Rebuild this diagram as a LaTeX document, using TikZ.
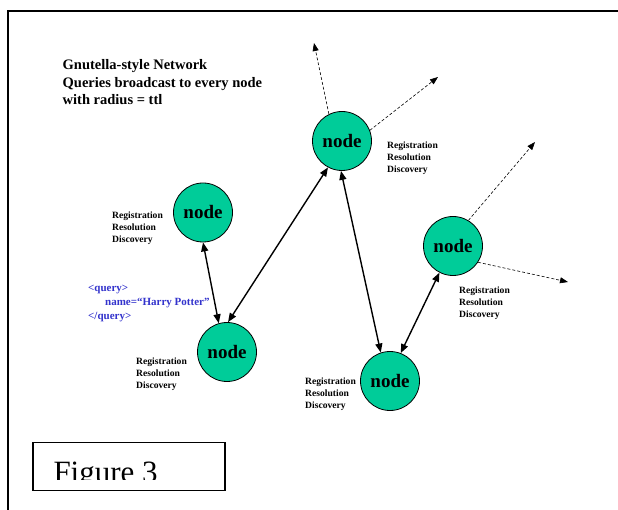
\documentclass[tikz,border=0pt]{standalone}
\usepackage{fontspec}
\setmainfont{Liberation Serif}
\usepackage{tikz}
\usetikzlibrary{arrows.meta}
\definecolor{nodegreen}{RGB}{0,204,153}
\definecolor{queryblue}{RGB}{51,51,204}

\begin{document}
\begin{tikzpicture}
    [
      x=1pt, y=-1pt,
      peer/.style = {circle, draw, line width=0.8pt, fill=nodegreen, minimum size=59pt, inner sep=0pt,
                     font=\bfseries\fontsize{19}{19}\selectfont},
      link/.style = {line width=1.4pt, {Triangle[length=9pt,width=7pt]}-{Triangle[length=9pt,width=7pt]}},
      probe/.style = {line width=0.6pt, dash pattern=on 3pt off 2pt, -{Triangle[length=8pt,width=6pt]}},
      info/.style = {anchor=north west, inner sep=0pt, align=left,
                     font=\bfseries\fontsize{9.6}{12}\selectfont},
    ]

    \useasboundingbox (0,0) rectangle (618,510);
    \draw[line width=1.7pt] (8,512) -- (8,11) -- (620,11);

    \node[anchor=north west, inner sep=0pt, align=left,
          font=\bfseries\fontsize{14.5}{17.5}\selectfont] (title) at (62.5,59.5)
      {Gnutella-style Network\\Queries broadcast to every node\\with radius = ttl};

    \node[peer] (peer1) at (203,212.5) {node};
    \node[peer] (peer2) at (227,352) {node};
    \node[peer] (peer3) at (342,141) {node};
    \node[peer] (peer4) at (453,246) {node};
    \node[peer] (peer5) at (390,381) {node};

    \node[info] (info1) at (112,212) {Registration\\Resolution\\Discovery};
    \node[info] (info2) at (136,358) {Registration\\Resolution\\Discovery};
    \node[info] (info3) at (387,142) {Registration\\Resolution\\Discovery};
    \node[info] (info4) at (459,287) {Registration\\Resolution\\Discovery};
    \node[info] (info5) at (305,378) {Registration\\Resolution\\Discovery};

    \node[anchor=north west, inner sep=0pt, align=left, text=queryblue,
          font=\bfseries\fontsize{11}{14.3}\selectfont] (query) at (88,284.5)
      {<query>\\\hspace*{17pt}name=``Harry Potter''\\</query>};

    \draw[link] (peer1.270) -- (peer2.106);
    \draw[link] (peer2.88) -- (peer3.242);
    \draw[link] (peer3.268) -- (peer5.108);
    \draw[link] (peer5.69) -- (peer4.243);

    \coordinate (out1) at (314,43);
    \coordinate (out2) at (438,77);
    \coordinate (out3) at (535,142);
    \coordinate (out4) at (568,282);
    \draw[probe] (peer3.116) -- (out1);
    \draw[probe] (peer3.21) -- (out2);
    \draw[probe] (peer4.59) -- (out3);
    \draw[probe] (peer4.-33) -- (out4);

    \node[draw, line width=1.4pt, minimum width=192pt, minimum height=48pt, inner sep=0pt] (figbox) at (129,466.5) {};
    \begin{scope}
      \clip (figbox.north west) rectangle (225,479.5);
      \node[anchor=base west, inner sep=0pt, font=\fontsize{31}{31}\selectfont] (figlabel) at (53.3,482) {Figure 3};
    \end{scope}

  \end{tikzpicture}
\end{document}
